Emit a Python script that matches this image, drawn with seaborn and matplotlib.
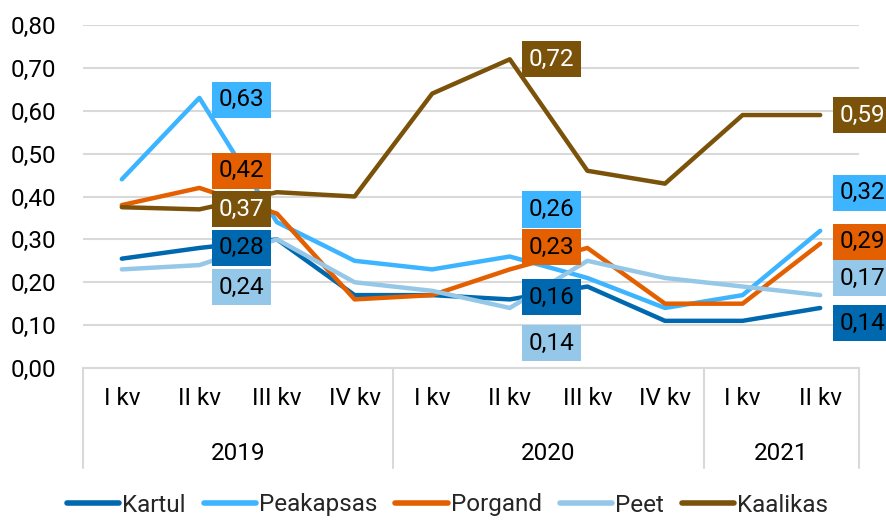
import pandas as pd
import seaborn as sns
import matplotlib.pyplot as plt
from matplotlib import font_manager
from matplotlib.lines import Line2D
from matplotlib.ticker import FuncFormatter
import matplotlib.transforms as mtransforms

# andmed
quarter_labels = ['I kv', 'II kv', 'III kv', 'IV kv', 'I kv', 'II kv', 'III kv', 'IV kv', 'I kv', 'II kv']
year_labels = ['2019', '2019', '2019', '2019', '2020', '2020', '2020', '2020', '2021', '2021']

kartul = [0.255, 0.28, 0.30, 0.17, 0.17, 0.16, 0.19, 0.11, 0.11, 0.14]
peakapsas = [0.44, 0.63, 0.34, 0.25, 0.23, 0.26, 0.21, 0.14, 0.17, 0.32]
porgand = [0.38, 0.42, 0.36, 0.16, 0.17, 0.23, 0.28, 0.15, 0.15, 0.29]
peet = [0.23, 0.24, 0.30, 0.20, 0.18, 0.14, 0.25, 0.21, 0.19, 0.17]
kaalikas = [0.375, 0.37, 0.41, 0.40, 0.64, 0.72, 0.46, 0.43, 0.59, 0.59]

series_names = ['Kartul', 'Peakapsas', 'Porgand', 'Peet', 'Kaalikas']
colors = {'Kartul': '#0068AE', 'Peakapsas': '#3DB4FF', 'Porgand': '#E35F00',
          'Peet': '#95C8E8', 'Kaalikas': '#7B520A'}
text_colors = {'Kartul': 'black', 'Peakapsas': 'black', 'Porgand': 'black',
               'Peet': 'black', 'Kaalikas': 'white'}

# sildid punktides 1, 5 ja 9, vertikaalne nihe pikslites
label_points = [1, 5, 9]
label_nudge = {
    1: {'Kartul': 0, 'Peakapsas': -2, 'Porgand': 17, 'Peet': -22, 'Kaalikas': 0},
    5: {'Kartul': 2, 'Peakapsas': 47, 'Porgand': 22, 'Peet': -35, 'Kaalikas': 0},
    9: {'Kartul': -15, 'Peakapsas': 38, 'Porgand': 2, 'Peet': 17, 'Kaalikas': 0},
}

df = pd.DataFrame({'Kartul': kartul, 'Peakapsas': peakapsas, 'Porgand': porgand,
                   'Peet': peet, 'Kaalikas': kaalikas})
df['pos'] = range(len(quarter_labels))
long = df.melt(id_vars='pos', var_name='series', value_name='value')

sns.set_theme(style='white')
names = {f.name for f in font_manager.fontManager.ttflist}
font = 'Liberation Sans Narrow' if 'Liberation Sans Narrow' in names else 'Roboto'
plt.rcParams['font.family'] = [font, 'DejaVu Sans']
fs = 17.5
grid_c = '#D9D9D9'

fig = plt.figure(figsize=(8.86, 5.2), dpi=100)
ax = fig.add_axes([83 / 886, 1 - 368 / 520, 776 / 886, 343 / 520])

sns.lineplot(data=long, x='pos', y='value', hue='series', hue_order=series_names,
             palette=colors, linewidth=3.2, solid_capstyle='round', legend=False, ax=ax)

ax.set_xlim(-0.5, len(quarter_labels) - 0.5)
ax.set_ylim(0, 0.8)
ax.set_yticks([i / 10 for i in range(9)])
ax.yaxis.set_major_formatter(FuncFormatter(lambda v, p: f'{v:.2f}'.replace('.', ',')))
ax.grid(axis='y', color=grid_c, linewidth=1.5)
ax.set_axisbelow(True)
for s in ['top', 'right', 'left']:
    ax.spines[s].set_visible(False)
ax.spines['bottom'].set_color(grid_c)
ax.spines['bottom'].set_linewidth(1.5)
ax.set_xticks(range(len(quarter_labels)))
ax.set_xticklabels(quarter_labels)
ax.tick_params(axis='x', length=0, pad=14, labelsize=fs, labelcolor='black')
ax.tick_params(axis='y', length=0, pad=19, labelsize=fs, labelcolor='black')
ax.set_xlabel('')
ax.set_ylabel('')

# aastad ja eraldusjooned
trans = mtransforms.blended_transform_factory(ax.transData, ax.transAxes)
years = []
for y in year_labels:
    if y not in years:
        years.append(y)
bounds = [-0.5]
for y in years:
    idx = [i for i, v in enumerate(year_labels) if v == y]
    ax.text((idx[0] + idx[-1]) / 2, -0.248, y, transform=trans, ha='center', va='center',
            fontsize=fs, color='black')
    bounds.append(idx[-1] + 0.5)
for b in bounds:
    ax.add_line(Line2D([b, b], [0, -0.2915], transform=trans, color=grid_c,
                       linewidth=1.5, clip_on=False))

# andmesildid
for i in label_points:
    for name in series_names:
        v = df[name][i]
        ax.annotate(f'{v:.2f}'.replace('.', ','), xy=(i, v), xytext=(42, label_nudge[i][name]),
                    textcoords='offset pixels', ha='center', va='center', fontsize=fs,
                    color=text_colors[name], annotation_clip=False, zorder=5,
                    bbox=dict(boxstyle='square,pad=0.27', fc=colors[name], ec='none'))

handles = [Line2D([0], [0], color=colors[n], linewidth=4, solid_capstyle='round') for n in series_names]
fig.legend(handles, series_names, loc='center', bbox_to_anchor=(0.505, 15 / 520), ncol=5,
           frameon=False, fontsize=fs, handlelength=2.15, handletextpad=0.12, columnspacing=0.75)

fig.savefig('out.png', dpi=100)
